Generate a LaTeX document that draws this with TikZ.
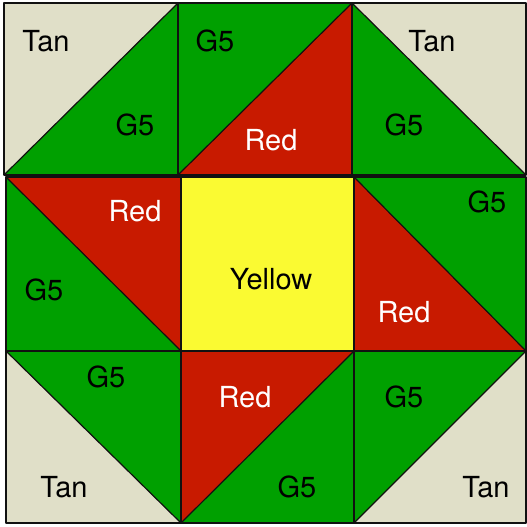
\documentclass[tikz,border=0pt]{standalone}
\usepackage{fontspec}
\setmainfont{TeX Gyre Heros}
\usepackage{tikz}
\definecolor{quiltTan}{HTML}{E0DFC8}
\definecolor{quiltGrn}{HTML}{00A000}
\definecolor{quiltRed}{HTML}{C81A00}
\definecolor{quiltYel}{HTML}{FAFA32}
\definecolor{quiltInk}{HTML}{111111}

\begin{document}
\begin{tikzpicture}[
  x=1pt, y=-1pt,
  font=\fontsize{29}{33}\selectfont,
  seam/.style={draw=quiltInk, line width=1.2pt, line join=round},
  lbl/.style={anchor=base, inner sep=0pt, text=black},
  wlbl/.style={lbl, text=white},
]
\useasboundingbox (0,0) rectangle (527,527);

% ======================= half-square triangles, seam bottom-left to top-right
\foreach \xa/\ya/\xb/\yb/\ca/\cb in {4/3/178/175/quiltTan/quiltGrn,
    178/3/352/175/quiltGrn/quiltRed,
    181/351/354/523/quiltRed/quiltGrn,
    354/351/526/523/quiltGrn/quiltTan} {
  \fill[\ca] (\xa,\ya) -- (\xb,\ya) -- (\xa,\yb) -- cycle;
  \fill[\cb] (\xb,\ya) -- (\xb,\yb) -- (\xa,\yb) -- cycle;
  \draw[seam] (\xa,\ya) rectangle (\xb,\yb);
  \draw[seam] (\xa,\yb) -- (\xb,\ya);
}

% ======================= half-square triangles, seam top-left to bottom-right
\foreach \xa/\ya/\xb/\yb/\ca/\cb in {352/3/526/175/quiltGrn/quiltTan,
    6/177/181/351/quiltGrn/quiltRed,
    354/177/526/351/quiltRed/quiltGrn,
    6/351/181/523/quiltTan/quiltGrn} {
  \fill[\ca] (\xa,\ya) -- (\xa,\yb) -- (\xb,\yb) -- cycle;
  \fill[\cb] (\xa,\ya) -- (\xb,\ya) -- (\xb,\yb) -- cycle;
  \draw[seam] (\xa,\ya) rectangle (\xb,\yb);
  \draw[seam] (\xa,\ya) -- (\xb,\yb);
}

% ======================= centre square
\filldraw[seam, fill=quiltYel] (181,177) rectangle (354,351);

% ======================= labels
\node[lbl]  (tlTan) at (46,52)   {Tan};
\node[lbl]  (tlGrn) at (135,135) {G5};
\node[lbl]  (tmGrn) at (215,52)  {G5};
\node[wlbl] (tmRed) at (271,150) {Red};
\node[lbl]  (trTan) at (432,52)  {Tan};
\node[lbl]  (trGrn) at (404,135) {G5};

\node[wlbl] (mlRed) at (135,221) {Red};
\node[lbl]  (mlGrn) at (44,300)  {G5};
\node[lbl]  (ctYel) at (271,289) {Yellow};
\node[lbl]  (mrGrn) at (487,212) {G5};
\node[wlbl] (mrRed) at (404,322) {Red};

\node[lbl]  (blGrn) at (106,387) {G5};
\node[lbl]  (blTan) at (64,497)  {Tan};
\node[wlbl] (bmRed) at (245,407) {Red};
\node[lbl]  (bmGrn) at (297,497) {G5};
\node[lbl]  (brGrn) at (404,407) {G5};
\node[lbl]  (brTan) at (486,497) {Tan};
\end{tikzpicture}
\end{document}
